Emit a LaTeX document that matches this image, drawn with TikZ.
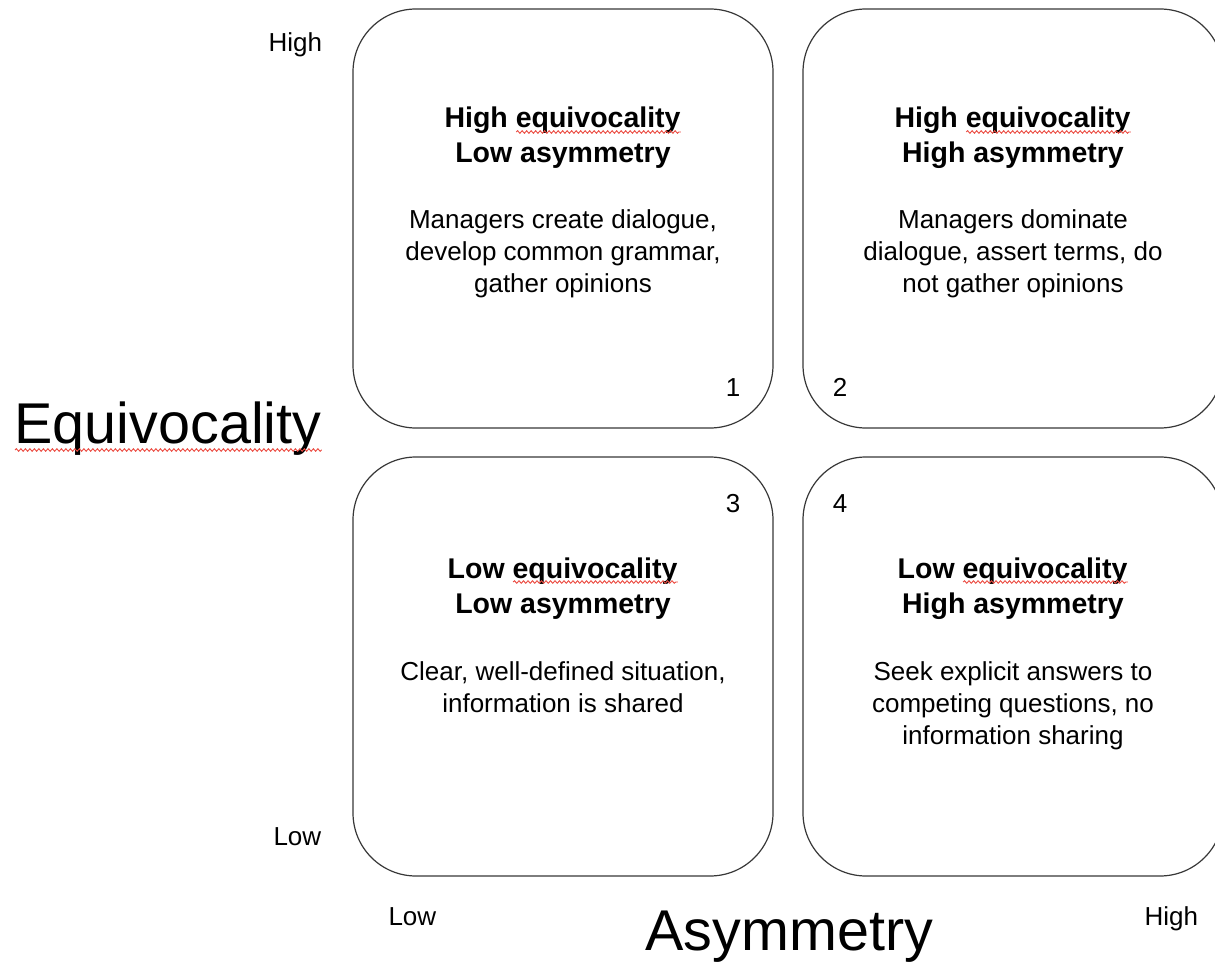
\documentclass[tikz,border=0pt]{standalone}
\usepackage{fontspec}
\setmainfont{Liberation Sans}
\usetikzlibrary{decorations.pathmorphing}

\definecolor{framegray}{RGB}{55,55,55}
\definecolor{spellred}{RGB}{235,75,65}

% word with a wavy red underline
\newsavebox\wavybox
\newlength\wavylen
\newlength\wavydrop
\newcommand\wavyword[2][4pt]{%
  \sbox\wavybox{#2}%
  \setlength\wavylen{\wd\wavybox}%
  \setlength\wavydrop{#1}%
  \rlap{\usebox\wavybox}%
  \smash{\tikz[baseline=0pt]\draw[wavyline] (0pt,-\wavydrop) -- (\wavylen,-\wavydrop);}}

% multi-line nodes are placed by the baseline of their last line
\tikzset{
  quad/.style={draw=framegray, line width=1.2pt, rounded corners=63pt,
    minimum width=420pt, minimum height=419pt, inner sep=0pt},
  quadtitle/.style={font=\fontsize{28.5}{35}\selectfont\bfseries, align=center, anchor=base},
  quadbody/.style={font=\fontsize{26}{32}\selectfont, align=center, anchor=base},
  quadnum/.style={font=\fontsize{26}{32}\selectfont, anchor=base},
  axislabel/.style={font=\fontsize{26}{32}\selectfont, anchor=base west},
  axistitle/.style={font=\fontsize{57.5}{66}\selectfont, anchor=base west},
  wavyline/.style={draw=spellred, line width=0.9pt, decorate,
    decoration={snake, amplitude=1.3pt, segment length=4.5pt}},
}

\begin{document}
\begin{tikzpicture}[x=1pt,y=-1pt]
\useasboundingbox (0,0) rectangle (1215,965);

% the four quadrants
\node[quad] (q1) at (563,218.5) {};
\node[quad] (q2) at (1013,218.5) {};
\node[quad] (q3) at (563,666.5) {};
\node[quad] (q4) at (1013,666.5) {};

% quadrant 1
\node[quadtitle] (t1) at (563,163) {High \wavyword{equivocality}\\Low asymmetry};
\node[quadbody] (b1) at (563,293) {Managers create dialogue,\\develop common grammar,\\gather opinions};
\node[quadnum] (n1) at (733,396) {1};

% quadrant 2
\node[quadtitle] (t2) at (1013,163) {High \wavyword{equivocality}\\High asymmetry};
\node[quadbody] (b2) at (1013,293) {Managers dominate\\dialogue, assert terms, do\\not gather opinions};
\node[quadnum] (n2) at (840,396) {2};

% quadrant 3
\node[quadtitle] (t3) at (563,613) {Low \wavyword{equivocality}\\Low asymmetry};
\node[quadbody] (b3) at (563,712) {Clear, well-defined situation,\\information is shared};
\node[quadnum] (n3) at (733,512) {3};

% quadrant 4
\node[quadtitle] (t4) at (1013,613) {Low \wavyword{equivocality}\\High asymmetry};
\node[quadbody] (b4) at (1013,744) {Seek explicit answers to\\competing questions, no\\information sharing};
\node[quadnum] (n4) at (840,512) {4};

% axes
\node[axislabel] (yhigh) at (265,52) {High};
\node[axislabel] (ylow) at (270,845) {Low};
\node[axistitle] (yaxis) at (11,443) {\wavyword[7pt]{Equivocality}};
\node[axislabel] (xlow) at (385,925) {Low};
\node[axislabel] (xhigh) at (1141,925) {High};
\node[axistitle] (xaxis) at (642,950) {Asymmetry};
\end{tikzpicture}
\end{document}
